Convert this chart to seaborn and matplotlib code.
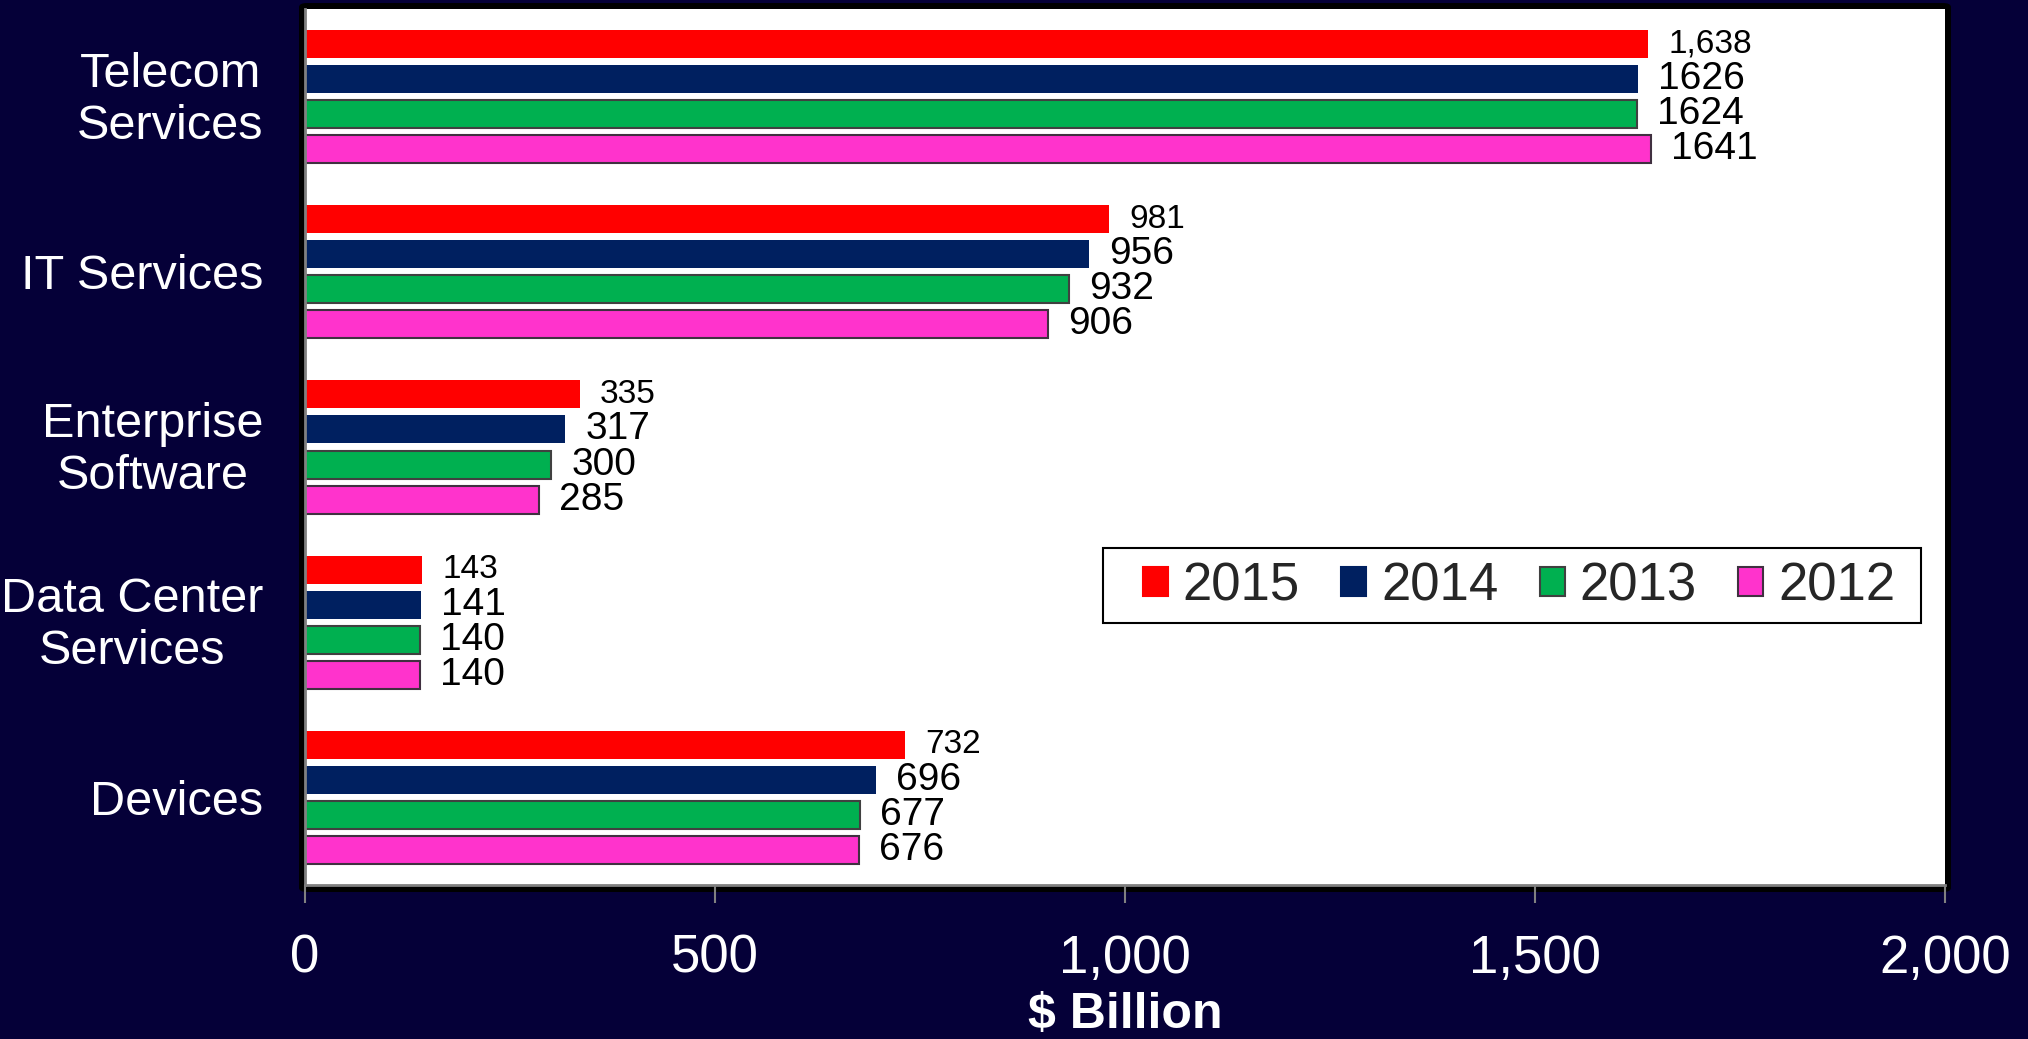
import numpy as np
import pandas as pd
import matplotlib
matplotlib.use("Agg")
import matplotlib.pyplot as plt
import matplotlib.transforms as mtransforms
import seaborn as sns
from matplotlib.patches import Patch, FancyBboxPatch, Rectangle
from matplotlib.ticker import FuncFormatter

# ---- data ----
categories = ["Telecom\nServices", "IT Services", "Enterprise\nSoftware",
              "Data Center\nServices", "Devices"]
years = ["2015", "2014", "2013", "2012"]
v2015 = [1638, 981, 335, 143, 732]
v2014 = [1626, 956, 317, 141, 696]
v2013 = [1624, 932, 300, 140, 677]
v2012 = [1641, 906, 285, 140, 676]
xticks = [0, 500, 1000, 1500, 2000]

series = {"2015": v2015, "2014": v2014, "2013": v2013, "2012": v2012}
rows = []
for y in years:
    for c, v in zip(categories, series[y]):
        rows.append({"category": c, "year": y, "value": v})
df = pd.DataFrame(rows)

colors = {"2015": "#FF0000", "2014": "#002060", "2013": "#00B050", "2012": "#FF33CC"}
edges = {"2015": "none", "2014": "none", "2013": "#404040", "2012": "#403040"}

sns.set_theme(style="white")
plt.rcParams["font.family"] = ["Liberation Sans", "DejaVu Sans"]

BG = "#050038"
W, H = 2028, 1039
fig = plt.figure(figsize=(W / 100, H / 100), dpi=100, facecolor=BG)
ax_l, ax_r, ax_t, ax_b = 305, 1945, 9, 885
ax = fig.add_axes([ax_l / W, 1 - ax_b / H, (ax_r - ax_l) / W, (ax_b - ax_t) / H])
ax.set_facecolor("white")

# black frame behind the plot area
frame = FancyBboxPatch((299 / W, 1 - 892 / H), (1951 - 299) / W, (892 - 3) / H,
                       boxstyle="round,pad=0,rounding_size=0.004",
                       transform=fig.transFigure, facecolor="black",
                       edgecolor="none", zorder=-1)
fig.patches.append(frame)

sns.barplot(data=df, y="category", x="value", hue="year", order=categories,
            hue_order=years, palette=colors, orient="h", width=0.8, gap=0.2,
            ax=ax, legend=False, saturation=1)

for y, cont in zip(years, ax.containers):
    for p in cont.patches:
        p.set_edgecolor(edges[y])
        p.set_linewidth(1.5 if edges[y] != "none" else 0)
    for p, v in zip(cont.patches, series[y]):
        yc = p.get_y() + p.get_height() / 2
        if y == "2015":
            txt, fs = f"{v:,}", 24
        else:
            txt, fs = f"{v}", 28
        ax.annotate(txt, xy=(p.get_width(), yc), xytext=(14.5, 0),
                    textcoords="offset points", ha="left", va="center",
                    fontsize=fs, color="black")

ax.set_xlim(0, 2000)
ax.set_ylim(4.5, -0.5)
ax.set_xticks(xticks)
ax.xaxis.set_major_formatter(FuncFormatter(lambda v, p: f"{int(v):,}"))
ax.tick_params(axis="x", which="major", direction="out", length=13, width=1.5,
               color="#808080", labelsize=38, labelcolor="white", pad=22,
               bottom=True)
ax.tick_params(axis="y", length=0, labelsize=35, labelcolor="white", pad=30)
off = mtransforms.ScaledTranslation(0, 3.5 / 72, fig.dpi_scale_trans)
for lab in ax.get_yticklabels():
    lab.set_multialignment("center")
    lab.set_linespacing(1.2)
    if "\n" in lab.get_text():
        lab.set_transform(lab.get_transform() + off)

ax.set_xlabel("$ Billion", fontsize=36, fontweight="bold", color="white", labelpad=6)
ax.set_ylabel("")

for s in ["top", "right"]:
    ax.spines[s].set_visible(False)
for s in ["left", "bottom"]:
    ax.spines[s].set_color("#808080")
    ax.spines[s].set_linewidth(2)

# legend box
ax.add_patch(Rectangle((0.4866, 0.2991), 0.9854 - 0.4866, 0.3847 - 0.2991,
                       transform=ax.transAxes, facecolor="white",
                       edgecolor="black", linewidth=1.5, zorder=4))
handles = [Patch(facecolor=colors[y], edgecolor=(edges[y] if edges[y] != "none" else colors[y]),
                 linewidth=1.5) for y in years]
leg = ax.legend(handles, years, loc="center", bbox_to_anchor=(0.7402, 0.3413),
                ncol=4, fontsize=38, frameon=False,
                handlelength=0.48, handleheight=0.48, handletextpad=0.28,
                columnspacing=0.78, borderpad=0.25, borderaxespad=0)
leg.set_zorder(5)

fig.savefig("out.png", dpi=100, facecolor=BG)
